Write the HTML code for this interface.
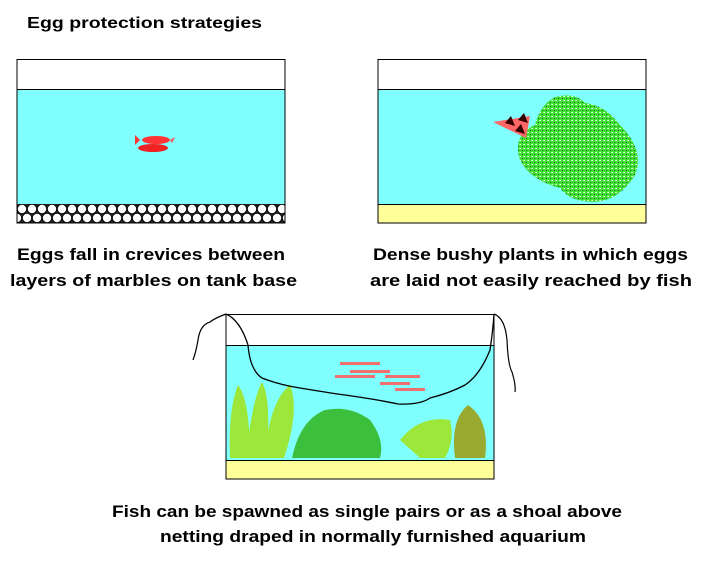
<!DOCTYPE html>
<html><head><meta charset="utf-8"><style>
body{margin:0;background:#fff;}
svg{display:block;}
text{font-family:"Liberation Sans",sans-serif;font-weight:bold;fill:#000;}
</style></head><body>
<svg width="722" height="571" viewBox="0 0 722 571" xmlns="http://www.w3.org/2000/svg">
<defs>
<pattern id="marb" x="17" y="204" width="10" height="19" patternUnits="userSpaceOnUse">
<rect width="10" height="19" fill="#222"/>
<circle cx="5" cy="5" r="4.6" fill="#fff" stroke="#000" stroke-width="0.8"/>
<circle cx="0" cy="14" r="4.6" fill="#fff" stroke="#000" stroke-width="0.8"/>
<circle cx="10" cy="14" r="4.6" fill="#fff" stroke="#000" stroke-width="0.8"/>
</pattern>
<pattern id="dots" width="4" height="4" patternUnits="userSpaceOnUse">
<rect width="4" height="4" fill="#44dd33"/>
<rect x="0" y="0" width="1" height="1" fill="#fff"/>
<rect x="2" y="2" width="1" height="1" fill="#063"/>
<rect x="3" y="0" width="1" height="1" fill="#9f9"/>
</pattern>
</defs>
<text x="27" y="28" font-size="16" textLength="235" lengthAdjust="spacingAndGlyphs">Egg protection strategies</text>

<!-- tank 1 -->
<rect x="17" y="89" width="268" height="134" fill="#80ffff"/>
<rect x="17" y="204" width="268" height="19" fill="url(#marb)"/>
<rect x="17" y="59.5" width="268" height="163.5" fill="none" stroke="#000" stroke-width="1"/>
<line x1="17" y1="89.5" x2="285" y2="89.5" stroke="#000"/>
<ellipse cx="156" cy="140" rx="14" ry="4" fill="#f33"/>
<ellipse cx="153" cy="148" rx="15" ry="4" fill="#e22"/>
<polygon points="140,140 135,135 135,145" fill="#f33"/>
<polygon points="170,140 175,137 172,143" fill="#f55"/>

<!-- tank 2 -->
<rect x="378" y="89" width="268" height="134" fill="#80ffff"/>
<rect x="378" y="204" width="268" height="19" fill="#ffff99"/>
<rect x="378" y="59.5" width="268" height="163.5" fill="none" stroke="#000"/>
<line x1="378" y1="89.5" x2="646" y2="89.5" stroke="#000"/>
<line x1="378" y1="204.5" x2="646" y2="204.5" stroke="#000"/>
<path d="M555,97 Q575,92 585,103 Q605,105 620,125 Q645,150 635,175 Q620,200 595,202 Q570,202 560,188 Q530,180 520,160 Q512,135 535,125 Q540,105 555,97Z" fill="url(#dots)"/>
<path d="M493,122 L530,116 L526,138 Z" fill="#f66"/>
<path d="M505,123 l6,-7 l4,10z M518,120 l6,-7 l4,10z M515,131 l6,-7 l4,10z" fill="#300"/>

<text x="17" y="260" font-size="17" textLength="268" lengthAdjust="spacingAndGlyphs">Eggs fall in crevices between</text>
<text x="10" y="286" font-size="17" textLength="287" lengthAdjust="spacingAndGlyphs">layers of marbles on tank base</text>
<text x="373" y="260" font-size="17" textLength="315" lengthAdjust="spacingAndGlyphs">Dense bushy plants in which eggs</text>
<text x="370" y="286" font-size="17" textLength="322" lengthAdjust="spacingAndGlyphs">are laid not easily reached by fish</text>

<!-- tank 3 -->
<rect x="226" y="345" width="268" height="134" fill="#80ffff"/>
<rect x="226" y="460" width="268" height="19" fill="#ffff99"/>
<rect x="226" y="314.5" width="268" height="164.5" fill="none" stroke="#000"/>
<line x1="226" y1="345.5" x2="494" y2="345.5" stroke="#000"/>
<line x1="226" y1="460.5" x2="494" y2="460.5" stroke="#000"/>
<g fill="#9de63a">
<path d="M230,458 Q228,410 238,385 Q250,400 250,458Z"/>
<path d="M246,458 Q252,400 262,382 Q272,400 266,458Z"/>
<path d="M264,458 Q270,400 290,385 Q300,410 284,458Z"/>
</g>
<path d="M292,458 Q300,420 325,410 Q350,405 370,420 Q385,440 380,458 Z" fill="#3cbf3c"/>
<path d="M400,440 Q420,415 450,420 Q455,440 445,458 L420,458 Z" fill="#9de63a"/>
<path d="M455,458 Q450,420 468,405 Q490,420 485,458 Z" fill="#9aaa30"/>
<g fill="#f07070">
<rect x="340" y="362" width="40" height="3"/>
<rect x="350" y="370" width="40" height="3"/>
<rect x="335" y="375" width="40" height="3"/>
<rect x="385" y="375" width="35" height="3"/>
<rect x="380" y="382" width="30" height="3"/>
<rect x="395" y="388" width="30" height="3"/>
</g>
<path d="M226,314 Q240,320 248,345 Q250,370 262,378 Q280,385 300,388 Q330,393 345,395 Q380,400 398,404 Q420,405 430,398 Q450,393 465,385 Q480,375 490,350 Q493,330 494,314" fill="none" stroke="#000" stroke-width="1.3"/>
<path d="M226,314 Q215,318 210,322 Q200,325 198,340 Q196,352 193,360" fill="none" stroke="#000" stroke-width="1.2"/>
<path d="M494,314 Q505,318 507,340 Q508,365 512,372 Q516,385 515,392" fill="none" stroke="#000" stroke-width="1.2"/>

<text x="112" y="517" font-size="17" textLength="510" lengthAdjust="spacingAndGlyphs">Fish can be spawned as single pairs or as a shoal above</text>
<text x="160" y="542" font-size="17" textLength="426" lengthAdjust="spacingAndGlyphs">netting draped in normally furnished aquarium</text>
</svg>
</body></html>
